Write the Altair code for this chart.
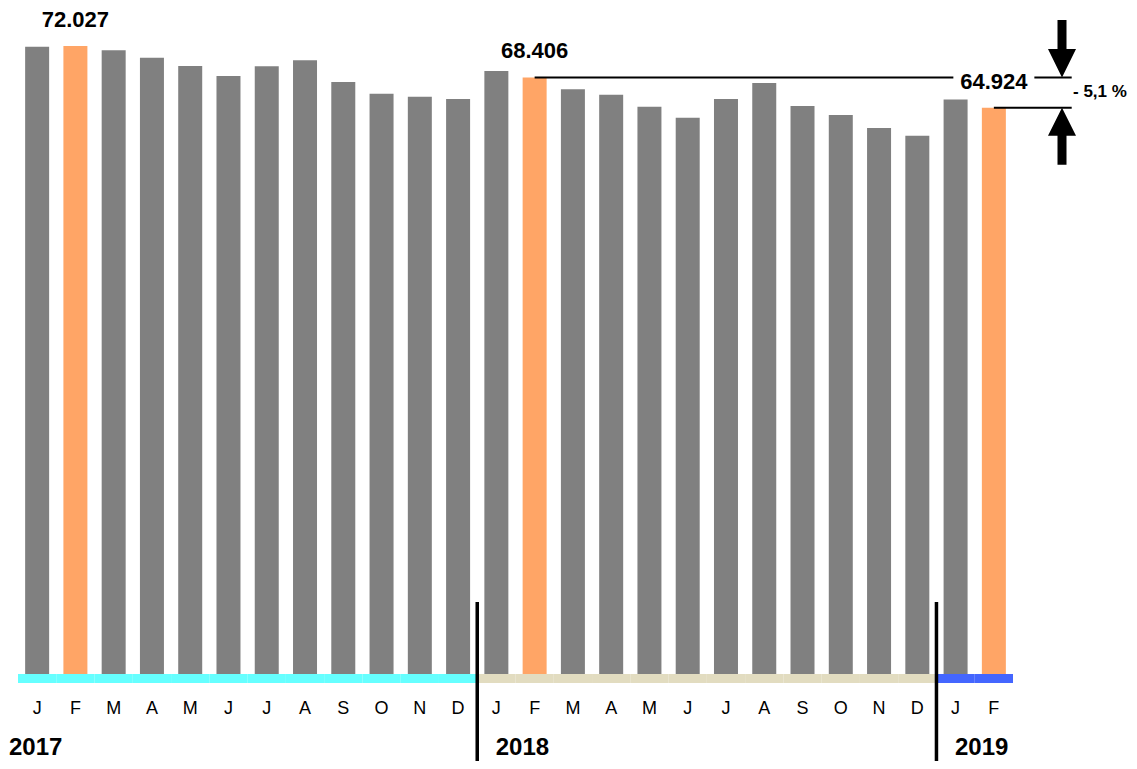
import altair as alt
import pandas as pd

# ---- data ----
years = ["2017"] * 12 + ["2018"] * 12 + ["2019"] * 2
month_nums = list(range(1, 13)) * 2 + [1, 2]
month_letters = ["J", "F", "M", "A", "M", "J", "J", "A", "S", "O", "N", "D"] * 2 + ["J", "F"]
values = [71940, 72027, 71530, 70680, 69720, 68580, 69690, 70380, 67890, 66550, 66200, 65940,
          69150, 68406, 67050, 66430, 65060, 63800, 65940, 67780, 65140, 64110, 62610, 61730,
          65880, 64924]
year_names = ["2017", "2018", "2019"]
year_strip_colors = ["#66FFFF", "#E2DCC0", "#4466FF"]
highlight_month = 2
change_text = "- 5,1 %"

FONT = "Liberation Sans"
BAR_GRAY = "#808080"
BAR_ORANGE = "#FFA566"

keys = [f"{y}-{m:02d}" for y, m in zip(years, month_nums)]
strip_map = dict(zip(year_names, year_strip_colors))
df = pd.DataFrame({
    "key": keys,
    "year": years,
    "month": month_nums,
    "letter": month_letters,
    "value": values,
})
df["bar_color"] = [BAR_ORANGE if m == highlight_month else BAR_GRAY for m in month_nums]
df["strip_color"] = [strip_map[y] for y in years]
df["label"] = [f"{v:,}".replace(",", ".") for v in values]

hl = df[df["month"] == highlight_month]
first_months = df[df["month"] == 1]
sep_df = first_months[first_months["year"] != years[0]]
prev_df = df[df["key"] == "2018-02"]
last_df = df[df["key"] == "2019-02"]
change_df = pd.DataFrame({"t": [change_text]})

xs = alt.Scale(domain=keys, paddingInner=0, paddingOuter=0)
ys = alt.Scale(domain=[0, 75000], nice=False, zero=True)
X = alt.X("key:N", scale=xs, axis=None)
Y = alt.Y("value:Q", scale=ys, axis=None)
X0 = alt.X("key:N", scale=xs, axis=None, bandPosition=0)

bars = alt.Chart(df).mark_bar(size=24).encode(
    x=X, y=Y, color=alt.Color("bar_color:N", scale=None)
)
strip = alt.Chart(df).mark_bar().encode(
    x=X, y=alt.value(654), y2=alt.value(663), color=alt.Color("strip_color:N", scale=None)
)
month_text = alt.Chart(df).mark_text(font=FONT, fontSize=18, baseline="middle", color="black").encode(
    x=X, y=alt.value(689), text="letter:N"
)
separators = alt.Chart(sep_df).mark_rule(strokeWidth=3.5, color="black").encode(
    x=X0, y=alt.value(582), y2=alt.value(741)
)
year_first = alt.Chart(first_months[first_months["year"] == years[0]]).mark_text(
    font=FONT, fontSize=24, fontWeight="bold", align="left", baseline="alphabetic", dx=-9
).encode(x=X0, y=alt.value(735), text="year:N")
year_rest = alt.Chart(sep_df).mark_text(
    font=FONT, fontSize=24, fontWeight="bold", align="left", baseline="alphabetic", dx=18.5
).encode(x=X0, y=alt.value(735), text="year:N")

line_prev = alt.Chart(prev_df).mark_rule(strokeWidth=2, color="black").encode(
    x=X, x2=alt.value(1053.7), y=Y
)
line_last = alt.Chart(last_df).mark_rule(strokeWidth=2, color="black").encode(
    x=X, x2=alt.value(1053.7), y=Y
)
label_bg = alt.Chart(last_df).mark_bar(size=81, color="white").encode(
    x=X, y=alt.value(54), y2=alt.value(61)
)
value_labels = alt.Chart(hl).mark_text(
    font=FONT, fontSize=22, fontWeight="bold", baseline="alphabetic", dy=-19, color="black"
).encode(x=X, y=Y, text="label:N")

down_path = "M-0.15,-1.917L0.15,-1.917L0.15,-0.95L0.467,-0.95L0,0L-0.467,-0.95L-0.15,-0.95Z"
up_path = "M0,0L0.467,0.933L0.15,0.933L0.15,1.9L-0.15,1.9L-0.15,0.933L-0.467,0.933Z"
arrow_down = alt.Chart(prev_df).mark_point(
    shape=down_path, size=3600, filled=True, color="black", opacity=1, strokeWidth=0
).encode(x=alt.value(1044), y=Y)
arrow_up = alt.Chart(last_df).mark_point(
    shape=up_path, size=3600, filled=True, color="black", opacity=1, strokeWidth=0
).encode(x=alt.value(1044), y=Y)
change_label = alt.Chart(change_df).mark_text(
    font=FONT, fontSize=17, fontWeight="bold", align="left", baseline="alphabetic", color="black"
).encode(x=alt.value(1055), y=alt.value(76.7), text="t:N")

chart = alt.layer(
    bars, strip, month_text, separators, year_first, year_rest,
    line_prev, line_last, label_bg, value_labels, arrow_down, arrow_up, change_label
).properties(
    width=995, height=654,
    padding={"left": 10, "top": 12, "right": 116, "bottom": 87},
    autosize=alt.AutoSizeParams(type="none"),
    background="white",
).configure_view(strokeWidth=0)

chart.save("out.html", embed_options={"renderer": "svg", "actions": False})
